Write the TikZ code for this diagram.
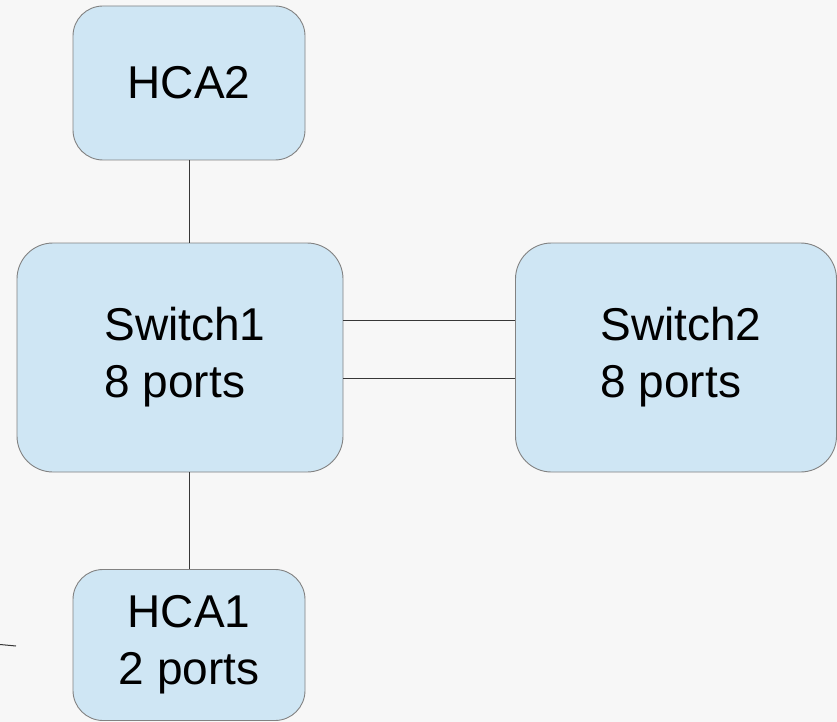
\documentclass[tikz,border=0pt]{standalone}
\usepackage{fontspec}
\setmainfont{Liberation Sans}
\usetikzlibrary{positioning}
\definecolor{box-blue}{RGB}{207, 230, 244}
\definecolor{box-edge}{RGB}{130, 130, 130}
\definecolor{link-gray}{RGB}{55, 55, 55}
\definecolor{page-gray}{RGB}{247, 247, 247}
\tikzset{
  devbox/.style={draw=box-edge, fill=box-blue, line width=0.9pt, rounded corners=#1,
    font=\fontsize{46}{57}\selectfont, inner sep=0pt},
  devbox/.default=30pt,
  link/.style={draw=link-gray, line width=1pt}
}
\newcommand{\padline}{\hspace*{10pt}}
\begin{document}
\begin{tikzpicture}[x=1pt, y=-1pt]
\fill[page-gray] (0,0) rectangle (837,722);
\useasboundingbox (0,0) rectangle (837,722);
\node[devbox, minimum width=232pt, minimum height=154pt] (hca2) at (189,83) {HCA2};
\node[devbox=36pt, minimum width=326pt, minimum height=229pt, align=left] (switch1) at (180,357.5) {\padline Switch1\\\padline 8 ports};
\node[devbox=36pt, minimum width=321pt, minimum height=229pt, align=left] (switch2) at (676,357.5) {\padline Switch2\\\padline 8 ports};
\node[devbox, minimum width=232pt, minimum height=151pt, align=center] (hca1) at (189,645) {HCA1\\2 ports};
\draw[link] (hca2.south) -- (hca2.south |- switch1.north);
\draw[link] (hca1.north |- switch1.south) -- (hca1.north);
\draw[link] ([yshift=37pt]switch1.east) -- ([yshift=37pt]switch2.west);
\draw[link] ([yshift=-21pt]switch1.east) -- ([yshift=-21pt]switch2.west);
\coordinate (stray) at (0,644.5);
\draw[link] (stray) -- (16,646);
\end{tikzpicture}
\end{document}
